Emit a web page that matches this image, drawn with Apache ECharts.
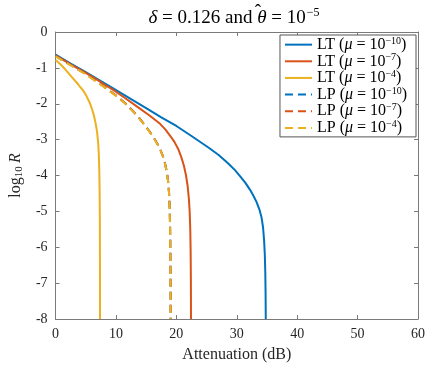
<!DOCTYPE html>
<html><head><meta charset="utf-8">
<script src="https://cdn.jsdelivr.net/npm/echarts@6/dist/echarts.min.js"></script>
<style>html,body{margin:0;padding:0;background:#fff}#c{width:428px;height:368px}</style>
</head><body><div id="c"></div>
<script>
const xTicks = [0, 10, 20, 30, 40, 50, 60];
const yTicks = [0, -1, -2, -3, -4, -5, -6, -7, -8];
const seriesNames = ['LT1', 'LT2', 'LT3', 'LP1', 'LP2', 'LP3'];
const muExp = ['−10', '−7', '−4', '−10', '−7', '−4'];
const kinds = ['LT', 'LT', 'LT', 'LP', 'LP', 'LP'];
const colors = ['#0072BD', '#D95319', '#EDB120', '#0072BD', '#D95319', '#EDB120'];

const LT_1e10 = [[0,-0.63],[2.5,-0.88],[5,-1.12],[7.5,-1.37],[9.4,-1.56],[12.5,-1.87],[15,-2.12],[17.5,-2.38],[20,-2.62],[22.5,-2.9],[25.3,-3.22],[27,-3.43],[28.5,-3.65],[29.7,-3.85],[30.6,-4.03],[31.4,-4.2],[32.2,-4.4],[32.8,-4.58],[33.3,-4.75],[33.75,-4.95],[34.1,-5.17],[34.35,-5.45],[34.52,-5.8],[34.64,-6.2],[34.72,-6.7],[34.77,-7.3],[34.8,-8]];
const LT_1e7 = [[0,-0.65],[2.5,-0.9],[5,-1.14],[7.5,-1.4],[9.4,-1.6],[11.5,-1.84],[13.5,-2.08],[15.5,-2.32],[17.3,-2.56],[18.2,-2.72],[19.0,-2.9],[19.7,-3.07],[20.3,-3.26],[20.8,-3.48],[21.25,-3.73],[21.6,-4.0],[21.87,-4.3],[22.07,-4.65],[22.2,-5.0],[22.3,-5.5],[22.36,-6.1],[22.4,-6.9],[22.42,-8]];
const LT_1e4 = [[0,-0.78],[0.8,-0.9],[1.6,-1.04],[2.7,-1.26],[3.7,-1.45],[4.6,-1.64],[5.1,-1.78],[5.6,-1.95],[6.0,-2.13],[6.35,-2.33],[6.65,-2.56],[6.88,-2.8],[7.05,-3.08],[7.16,-3.4],[7.24,-3.85],[7.29,-4.4],[7.33,-5.2],[7.35,-6.3],[7.36,-8]];
const LP_1e10 = [[0,-0.67],[2.5,-0.92],[4.8,-1.15],[7.5,-1.46],[10,-1.77],[11.5,-1.98],[12.8,-2.2],[13.8,-2.39],[14.7,-2.58],[15.5,-2.76],[16.2,-2.93],[16.8,-3.1],[17.3,-3.26],[17.75,-3.45],[18.1,-3.65],[18.4,-3.88],[18.63,-4.15],[18.8,-4.5],[18.9,-4.9],[18.97,-5.5],[19.02,-6.3],[19.05,-7.2],[19.06,-8]];
const LP_1e7 = [[0,-0.67],[2.5,-0.92],[4.8,-1.15],[7.5,-1.46],[10,-1.77],[11.5,-1.98],[12.8,-2.2],[13.8,-2.39],[14.7,-2.58],[15.5,-2.76],[16.2,-2.93],[16.8,-3.1],[17.3,-3.26],[17.75,-3.45],[18.1,-3.65],[18.4,-3.88],[18.62,-4.15],[18.79,-4.5],[18.89,-4.9],[18.96,-5.5],[19.01,-6.3],[19.04,-7.2],[19.05,-8]];
const LP_1e4 = [[0,-0.68],[2.5,-0.93],[4.8,-1.16],[7.5,-1.47],[10,-1.78],[11.5,-1.99],[12.8,-2.21],[13.8,-2.4],[14.7,-2.59],[15.5,-2.77],[16.2,-2.94],[16.8,-3.11],[17.3,-3.27],[17.75,-3.46],[18.1,-3.66],[18.4,-3.89],[18.62,-4.16],[18.79,-4.51],[18.89,-4.91],[18.96,-5.5],[19.01,-6.3],[19.04,-7.2],[19.05,-8]];
const allData = [LT_1e10, LT_1e7, LT_1e4, LP_1e10, LP_1e7, LP_1e4];

const FONT = 'Liberation Serif';
const axisColor = '#7a7a7a';
const textColor = '#262626';
const TS = 19; // title font size

// measure title parts to place the hat over theta
const mctx = document.createElement('canvas').getContext('2d');
function mw(font, s) { mctx.font = font; return mctx.measureText(s).width; }
const fI = 'italic ' + TS + 'px "' + FONT + '"';
const fN = TS + 'px "' + FONT + '"';
const fS = '12px "' + FONT + '"';
const wDelta = mw(fI, 'δ'), wMid = mw(fN, ' = 0.126 and '), wTheta = mw(fI, 'θ'), wEnd = mw(fN, ' = 10'), wSup = mw(fS, '−5') + 1;
const totalW = wDelta + wMid + wTheta + wEnd + wSup;
const titleCx = 229;
const hatX = titleCx - totalW / 2 + wDelta + wMid + wTheta / 2 + 1;

const chart = echarts.init(document.getElementById('c'), null, {renderer: 'canvas'});

function axisCommon(pos, show) {
  return {
    type: 'value', position: pos,
    axisLine: {show: true, onZero: false, lineStyle: {color: axisColor, width: 1}},
    axisTick: {show: true, inside: true, length: 4, lineStyle: {color: axisColor}},
    splitLine: {show: false},
    axisLabel: {show: show, color: textColor, fontFamily: FONT, fontSize: 14}
  };
}

const series = allData.map((d, i) => ({
  name: seriesNames[i],
  type: 'line',
  data: d,
  showSymbol: false,
  symbol: 'none',
  smooth: false,
  clip: true,
  lineStyle: {color: colors[i], width: 2, type: kinds[i] === 'LP' ? [8, 5] : 'solid'},
  itemStyle: {color: colors[i]},
  z: 2 + i
}));

chart.setOption({
  animation: false,
  backgroundColor: '#fff',
  title: {
    text: '{i|δ}{n| = 0.126 and }{i|θ}{n| = 10}{s|−5}',
    left: titleCx, top: 2, textAlign: 'center',
    textStyle: {
      fontWeight: 'normal',
      rich: {
        i: {fontFamily: FONT, fontStyle: 'italic', fontWeight: 'normal', fontSize: TS, lineHeight: 22, color: '#000'},
        n: {fontFamily: FONT, fontWeight: 'normal', fontSize: TS, lineHeight: 22, color: '#000'},
        s: {fontFamily: FONT, fontWeight: 'normal', fontSize: 12, color: '#000', verticalAlign: 'top', padding: [0, 0, 0, 1]}
      }
    }
  },
  graphic: [{
    type: 'text', x: hatX, y: 3, z: 100,
    style: {text: 'ˆ', fill: '#000', font: TS + 'px "' + FONT + '"', align: 'center', verticalAlign: 'top'}
  }],
  grid: {left: 41, right: 10, top: 32, bottom: 47, containLabel: false},
  xAxis: [
    Object.assign(axisCommon('bottom', true), {
      min: xTicks[0], max: xTicks[xTicks.length - 1], interval: 10,
      name: 'Attenuation (dB)', nameLocation: 'middle', nameGap: 28,
      nameTextStyle: {fontFamily: FONT, fontSize: 16, color: textColor}
    }),
    Object.assign(axisCommon('top', false), {min: xTicks[0], max: xTicks[xTicks.length - 1], interval: 10})
  ],
  yAxis: [
    Object.assign(axisCommon('left', true), {
      min: yTicks[yTicks.length - 1], max: yTicks[0], interval: 1,
      axisLabel: {show: true, color: textColor, fontFamily: FONT, fontSize: 14, margin: 8},
      name: '{n|log}{s|10} {i|R}', nameLocation: 'middle', nameGap: 22, nameRotate: 90,
      nameTextStyle: {
        rich: {
          n: {fontFamily: FONT, fontSize: 16, color: textColor},
          s: {fontFamily: FONT, fontSize: 11, color: textColor, padding: [7, 0, 0, 0]},
          i: {fontFamily: FONT, fontStyle: 'italic', fontSize: 16, color: textColor}
        }
      }
    }),
    Object.assign(axisCommon('right', false), {min: yTicks[yTicks.length - 1], max: yTicks[0], interval: 1})
  ],
  legend: {
    orient: 'vertical', right: 12, top: 35,
    backgroundColor: '#fff', borderColor: '#555', borderWidth: 1,
    padding: [1, 9, 1, 4], itemGap: 0, itemWidth: 27, itemHeight: 14,
    itemStyle: {color: 'rgba(0,0,0,0)', borderWidth: 0, opacity: 0},
    data: seriesNames,
    formatter: function (name) {
      const i = seriesNames.indexOf(name);
      return '{n|' + kinds[i] + ' (}{i|μ}{n| = 10}{s|' + muExp[i] + '}{n|)}';
    },
    textStyle: {
      rich: {
        n: {fontFamily: FONT, fontSize: 16, lineHeight: 17.3, color: '#000'},
        i: {fontFamily: FONT, fontStyle: 'italic', fontSize: 16, lineHeight: 17.3, color: '#000'},
        s: {fontFamily: FONT, fontSize: 10, color: '#000', verticalAlign: 'top'}
      }
    }
  },
  series: series
});
</script>
</body></html>
